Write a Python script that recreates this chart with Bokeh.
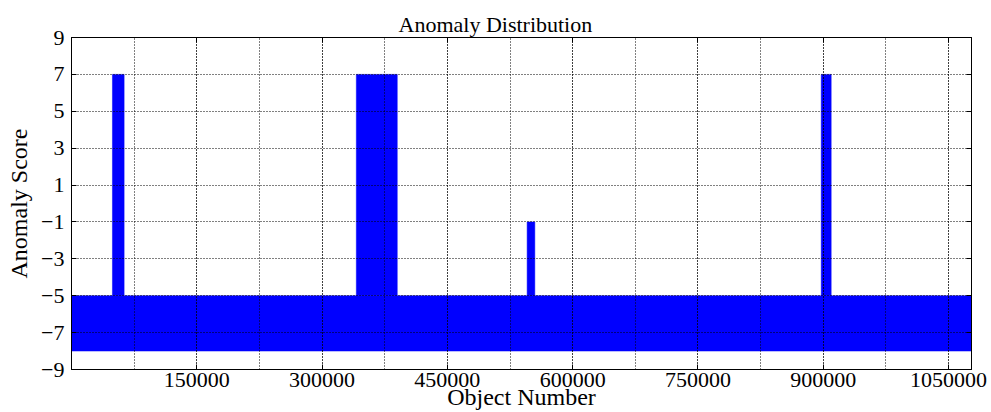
from bokeh.plotting import figure
from bokeh.models import (SingleIntervalTicker, FixedTicker, Range1d, NumeralTickFormatter,
                          LinearAxis, CustomJSTickFormatter)
from bokeh.embed import file_html
from bokeh.resources import INLINE

# Data
x_start, x_end = 0, 1077500
base_left = [0]
base_right = [1077500]
base_bottom = [-8]
base_top = [-5]

spike_left = [49000, 341000, 545500, 897600]
spike_right = [63000, 390000, 554700, 909500]
spike_top = [7, 7, -1, 7]
spike_bottom = [-5, -5, -5, -5]

y_ticks = [-9, -7, -5, -3, -1, 1, 3, 5, 7, 9]

FONT = "Liberation Serif"
BLUE = "#0000ff"

p = figure(width=991, height=412, output_backend="svg", toolbar_location=None,
           x_range=Range1d(x_start, x_end), y_range=Range1d(-9, 9),
           min_border_left=71, min_border_right=20, min_border_top=37, min_border_bottom=10)

p.quad(left=base_left, right=base_right, bottom=base_bottom, top=base_top,
       fill_color=BLUE, line_color=BLUE, line_width=0.5)
p.quad(left=spike_left, right=spike_right, bottom=spike_bottom, top=spike_top,
       fill_color=BLUE, line_color=BLUE, line_width=0.5)

p.title.text = "Anomaly Distribution"
p.title.align = "left"
p.title.offset = 327
p.title.text_font = FONT
p.title.text_font_size = "22px"
p.title.text_font_style = "normal"
p.title.text_color = "black"
p.title.standoff = 2

xt = SingleIntervalTicker(interval=150000, num_minor_ticks=2)
p.xaxis.ticker = xt
p.xaxis.formatter = NumeralTickFormatter(format="0")
p.xaxis.major_label_overrides = {0: ""}
p.yaxis.ticker = FixedTicker(ticks=y_ticks)
p.yaxis.major_label_overrides = {t: (str(t).replace("-", "\u2212")) for t in y_ticks}

for ax in (p.xaxis[0], p.yaxis[0]):
    ax.major_tick_in = 5
    ax.major_tick_out = 0
    ax.minor_tick_in = 0
    ax.minor_tick_out = 0
    ax.axis_line_color = "black"
    ax.major_tick_line_color = "black"
    ax.major_label_text_font = FONT
    ax.major_label_text_font_size = "22px"
    ax.major_label_text_color = "black"
    ax.axis_label_text_font = FONT
    ax.axis_label_text_font_size = "24px"
    ax.axis_label_text_font_style = "normal"
    ax.axis_label_text_color = "black"

p.xaxis.axis_label = "Object Number"
p.yaxis.axis_label = "Anomaly Score"
p.xaxis.major_label_standoff = 3
p.xaxis.axis_label_standoff = -6
p.yaxis.major_label_standoff = 7
p.yaxis.axis_label_standoff = 6

# tick marks on the right and top edges (no labels)
blank = CustomJSTickFormatter(code="return ''")
ra = LinearAxis(ticker=FixedTicker(ticks=y_ticks), formatter=blank,
                major_tick_in=5, major_tick_out=0, minor_tick_in=0, minor_tick_out=0,
                major_label_standoff=0, axis_line_color="black")
p.add_layout(ra, "right")
ta = LinearAxis(ticker=SingleIntervalTicker(interval=150000, num_minor_ticks=2), formatter=blank,
                major_tick_in=5, major_tick_out=0, minor_tick_in=0, minor_tick_out=0,
                major_label_standoff=0, axis_line_color="black")
p.add_layout(ta, "above")

p.xgrid.ticker = xt
p.xgrid.grid_line_color = "black"
p.xgrid.grid_line_dash = "1 2"
p.xgrid.grid_line_width = 1
p.xgrid.minor_grid_line_color = "black"
p.xgrid.minor_grid_line_dash = "1 2"
p.xgrid.minor_grid_line_width = 1
p.ygrid.grid_line_color = "black"
p.ygrid.grid_line_dash = "1 2"
p.ygrid.grid_line_width = 1
p.xgrid.level = "overlay"
p.ygrid.level = "overlay"

p.outline_line_color = "black"
p.outline_line_width = 1
p.background_fill_color = "white"
p.border_fill_color = "white"

open("out.html", "w").write(file_html(p, INLINE))
